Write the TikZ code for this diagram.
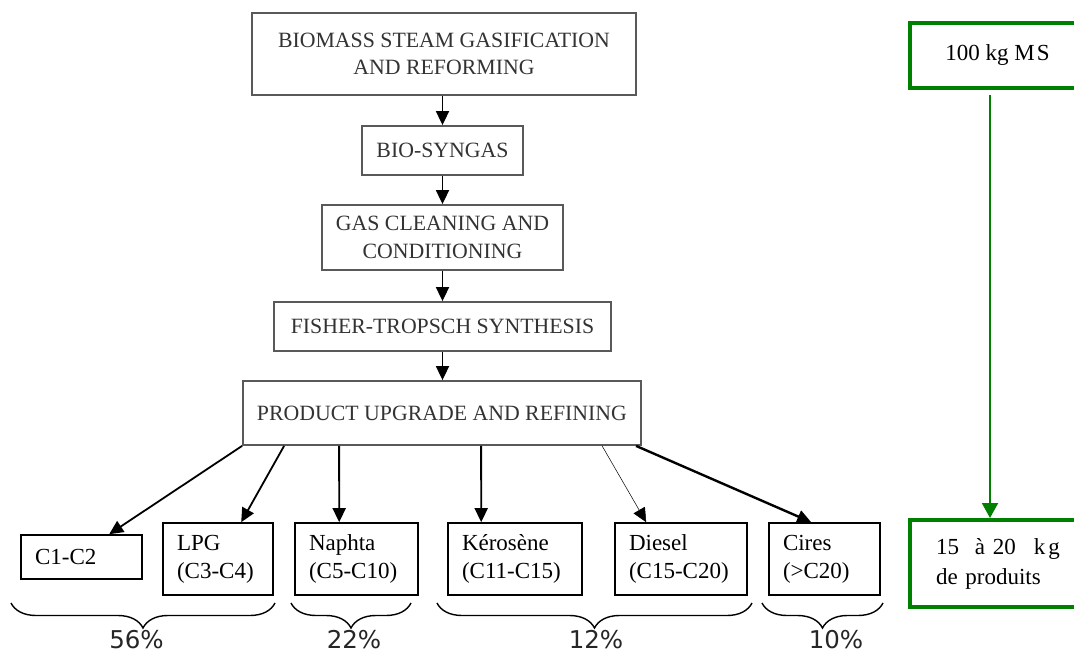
\documentclass[tikz,border=0pt]{standalone}
\usepackage{fontspec}
\setmainfont{Liberation Serif}
\newfontfamily\pctfont{DejaVu Sans}
\usetikzlibrary{arrows.meta,decorations.pathreplacing,calc}
\definecolor{gr}{RGB}{0,128,0}
\begin{document}
\begin{tikzpicture}[x=1pt,y=-1pt,
  topbox/.style={draw=black!65, line width=1.8pt, text=black!80, align=center, inner sep=0pt, font=\fontsize{21.8}{27.5}\selectfont},
  prodbox/.style={draw=black, line width=1.6pt, align=left, inner xsep=14pt, inner ysep=0pt, font=\fontsize{23}{28}\selectfont},
  arr/.style={line width=1.8pt, -{Triangle[length=14pt,width=13pt]}},
  gbox/.style={draw=gr, line width=4pt, inner sep=0pt, font=\fontsize{23}{30}\selectfont},
  brc/.style={decorate, decoration={brace,mirror,amplitude=25pt}, line width=1.4pt},
  pct/.style={font=\pctfont\fontsize{24.5}{30}\selectfont, anchor=base, inner sep=0pt, text=black!85}]
\useasboundingbox (0,0) rectangle (1074,652);
\clip (0,0) rectangle (1074,652);
\fill[white] (0,0) rectangle (1074,652);

% main chain
\node[topbox, minimum width=384pt, minimum height=82pt] (b1) at (444,54) {BIOMASS STEAM GASIFICATION\\AND REFORMING};
\node[topbox, minimum width=161pt, minimum height=49pt] (b2) at (442.5,150.5) {BIO-SYNGAS};
\node[topbox, minimum width=241pt, minimum height=65pt] (b3) at (442.5,237.5) {GAS CLEANING AND\\CONDITIONING};
\node[topbox, minimum width=337pt, minimum height=49pt] (b4) at (442.5,326.5) {FISHER-TROPSCH SYNTHESIS};
\node[topbox, minimum width=398pt, minimum height=64pt] (b5) at (442,413) {PRODUCT UPGRADE AND REFINING};

\draw[arr] (b1.south -| b2.north) -- (b2.north);
\draw[arr] (b2.south) -- (b3.north);
\draw[arr] (b3.south) -- (b4.north);
\draw[arr] (b4.south) -- (b4.south |- b5.north);

% products
\node[prodbox, minimum width=121pt, minimum height=44pt, text width=93pt] (c1) at (81.5,557) {C1-C2};
\node[prodbox, minimum width=110pt, minimum height=72pt, text width=82pt] (lpg) at (218,559) {LPG\\(C3-C4)};
\node[prodbox, minimum width=123pt, minimum height=72pt, text width=95pt] (naph) at (356.5,559) {Naphta\\(C5-C10)};
\node[prodbox, minimum width=134pt, minimum height=72pt, text width=106pt] (kero) at (515,559) {Kérosène\\(C11-C15)};
\node[prodbox, minimum width=132pt, minimum height=72pt, text width=104pt] (dies) at (681,559) {Diesel\\(C15-C20)};
\node[prodbox, minimum width=111pt, minimum height=72pt, text width=83pt] (cires) at (824.5,559) {Cires\\(>C20)};

\draw[arr] (b5.south west) -- ([xshift=89pt]c1.north west);
\draw[arr] ([xshift=42pt]b5.south west) -- ([xshift=79pt]lpg.north west);
\draw[arr] ([xshift=97pt]b5.south west) -- ([xshift=45pt]naph.north west);
\draw[arr] ([xshift=239pt]b5.south west) -- ([xshift=34pt]kero.north west);
\draw[arr, line width=0.5pt] ([xshift=360pt]b5.south west) -- ([xshift=32pt]dies.north west);
\draw[arr, line width=2.4pt] ([xshift=394pt]b5.south west) -- ([xshift=43pt]cires.north west);

% braces and shares
\draw[brc] (11,603) -- (275,603);
\draw[brc] (291,603) -- (411,603);
\draw[brc] (437,603) -- (752,603);
\draw[brc] (762,603) -- (883,603);
\node[pct] (p1) at (136.5,648) {56\%};
\node[pct] (p2) at (354,648) {22\%};
\node[pct] (p3) at (596,648) {12\%};
\node[pct] (p4) at (836,648) {10\%};

% mass balance
\node[gbox, minimum width=175pt, minimum height=65pt] (g1) at (997.5,55.5) {100 kg M\kern2pt S};
\node[gbox, minimum width=175pt, minimum height=87pt, text width=123pt, align=left] (g2) at (997.5,563.5) {\mbox{15\hspace{16pt}à 20\hspace{18pt}k\kern3pt g}\\de produits};
\draw[draw=gr, line width=2pt, -{Triangle[length=15pt,width=16pt]}, shorten <=5pt] ([xshift=82pt]g1.south west) -- ([xshift=82pt]g2.north west);
\end{tikzpicture}
\end{document}
